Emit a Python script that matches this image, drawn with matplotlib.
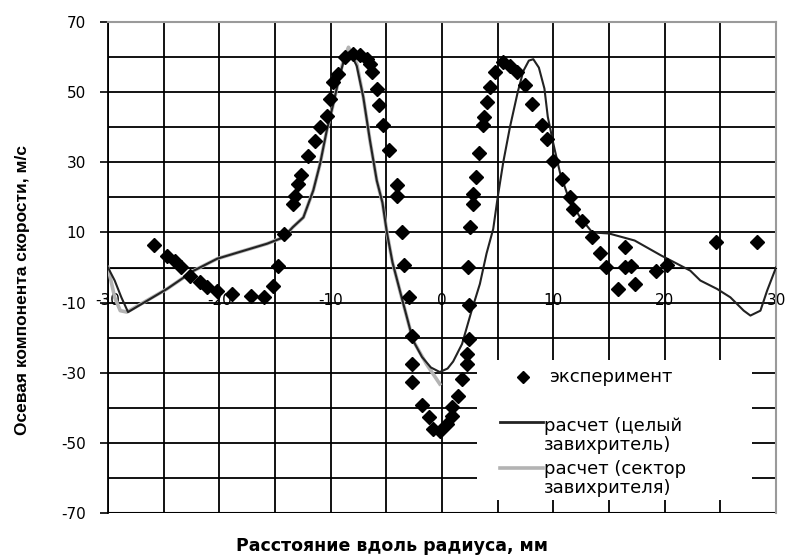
import numpy as np
import matplotlib
matplotlib.use('Agg')
import matplotlib.pyplot as plt
from matplotlib.patches import Rectangle
from matplotlib.lines import Line2D

# experimental points, axial velocity vs radius
exp_x = [-25.9, -24.7, -24.0, -23.4, -22.6, -21.7, -21.1, -20.2, -18.9, -17.2,
         -16.0, -15.2, -14.7, -14.2, -13.35, -13.2, -12.9, -12.7, -12.0, -11.4,
         -11.0, -10.35, -10.06, -9.76, -9.3, -8.7, -7.97, -7.36, -6.76, -6.47,
         -6.3, -5.86, -5.7, -5.27, -4.8, -4.07, -4.07, -3.6, -3.4, -3.0,
         -2.7, -2.7, -2.7, -1.8, -1.2, -0.78, -0.18, 0.42, 0.87, 0.87,
         1.47, 1.77, 2.2, 2.2, 2.45, 2.45, 2.36, 2.5, 2.75, 2.8,
         3.05, 3.35, 3.7, 3.77, 4.0, 4.3, 4.76, 5.5, 6.1, 6.7,
         7.46, 8.06, 8.96, 9.4, 10.0, 10.75, 11.5, 11.8, 12.55, 13.45,
         14.2, 14.7, 16.4, 16.4, 17.0, 15.8, 17.3, 19.2, 20.2, 24.6, 28.3]
exp_y = [6.3, 3.4, 2.0, 0.1, -2.3, -4.2, -5.6, -6.6, -7.5, -8.0,
         -8.3, -5.4, 0.3, 9.6, 18.2, 20.5, 23.9, 26.5, 31.9, 36.2,
         40.0, 43.3, 48.1, 52.8, 55.2, 60.0, 60.9, 60.7, 59.5, 58.1,
         55.7, 51.0, 46.2, 40.5, 33.4, 23.4, 20.5, 10.1, 0.8, -8.5,
         -19.4, -27.5, -32.7, -39.3, -42.7, -46.0, -46.5, -44.6, -42.2, -39.8,
         -36.5, -31.7, -27.5, -24.6, -20.3, -10.8, 0.1, 11.5, 18.2, 21.0,
         25.7, 32.6, 40.5, 42.9, 47.1, 51.4, 55.7, 58.5, 57.6, 55.7,
         51.9, 46.7, 40.5, 36.7, 30.5, 25.3, 20.0, 16.7, 13.4, 8.6,
         4.2, 0.1, 5.8, 0.1, 0.4, -6.1, -4.7, -0.9, 0.8, 7.2, 7.2]

# computation, full swirler
full_x = [-30, -29.4, -28.8, -28.2, -24.7, -22.3, -20.2, -17.8, -15.7, -14.25,
          -13.4, -12.45, -11.56, -10.95, -10.35, -9.76, -9.3, -8.86, -8.3, -7.66,
          -7.07, -6.47, -5.86, -5.35, -4.95, -4.45, -3.47, -2.6, -1.8, -1.0,
          -0.2, 0.5, 1.0, 1.8, 2.66, 3.4, 4.0, 4.6, 5.0, 5.5,
          6.1, 6.8, 7.3, 7.8, 8.2, 8.7, 9.2, 9.5, 10.0, 10.6,
          11.35, 12.4, 13.5, 15.0, 17.3, 19.7, 21.1, 22.3, 23.2, 24.7,
          25.9, 27.1, 27.7, 28.6, 29.2, 30.0]
full_y = [0, -3.7, -8.5, -12.7, -6.1, -0.9, 2.5, 4.8, 6.8, 8.6,
          11.5, 14.3, 22.0, 29.6, 39.1, 46.7, 53.3, 58.5, 61.5, 57.5,
          48.6, 36.2, 24.8, 18.5, 10.0, 1.5, -10.4, -20.8, -25.5, -28.5,
          -29.8, -28.8, -26.8, -21.8, -12.3, -4.7, 4.0, 11.0, 20.0, 30.0,
          40.0, 50.0, 56.0, 59.0, 59.4, 57.0, 51.0, 43.0, 35.3, 27.0,
          20.0, 14.3, 10.0, 9.7, 7.7, 3.4, 1.1, -0.9, -3.7, -6.1,
          -8.5, -12.3, -13.7, -12.3, -6.6, 0.0]

# computation, swirler sector
sect_x = [-30, -29.8, -29.4, -28.9, -28.3, -24.7, -22.3, -20.2, -17.8, -15.7,
          -14.25, -13.4, -12.45, -11.56, -10.95, -10.35, -9.76, -9.3, -8.86, -8.4,
          -7.66, -7.07, -6.47, -5.86, -5.35, -4.95, -4.45, -3.47, -2.6, -1.4, -0.2]
sect_y = [0, -2.8, -8.5, -12.3, -12.7, -6.1, -0.9, 2.5, 4.8, 6.8,
          8.6, 11.5, 14.3, 22.0, 29.6, 39.1, 46.7, 53.3, 59.0, 62.8,
          58.1, 48.6, 36.2, 24.8, 18.5, 10.0, 1.5, -10.4, -20.8, -27.5, -33.2]

x_ticks = [-30, -20, -10, 0, 10, 20, 30]
y_ticks = [-70, -50, -30, -10, 10, 30, 50, 70]

plt.rcParams['font.family'] = ['DejaVu Sans']

fig = plt.figure(figsize=(7.86, 5.56), dpi=100)
ax = fig.add_axes([0.1374, 0.0773, 0.8499, 0.8831])

ax.set_xlim(-30, 30)
ax.set_ylim(-70, 70)
ax.set_xticks(x_ticks)
ax.set_xticks(np.arange(-25, 30, 10), minor=True)
ax.set_yticks(y_ticks)
ax.set_yticks(np.arange(-60, 70, 20), minor=True)
ax.set_xticklabels([str(v) for v in x_ticks])
ax.set_yticklabels([str(v) for v in y_ticks])
ax.grid(True, which='both', color='black', linewidth=1.3)
ax.set_axisbelow(True)

ax.spines['bottom'].set_position(('data', 0))
ax.spines['bottom'].set_color('black')
ax.spines['left'].set_color('black')
ax.spines['left'].set_linewidth(1.3)
ax.spines['top'].set_color('#9a9a9a')
ax.spines['right'].set_color('#9a9a9a')
ax.spines['top'].set_linewidth(1.5)
ax.spines['right'].set_linewidth(1.5)
ax.axhline(-70, color='black', linewidth=1.5, zorder=1)

ax.tick_params(axis='y', which='major', direction='out', length=6, width=1.2,
               pad=10, labelsize=11)
ax.tick_params(axis='y', which='minor', length=0)
ax.tick_params(axis='x', which='both', length=0, pad=18, labelsize=11)

ax.plot(sect_x, sect_y, color='#b3b3b3', linewidth=2.6, zorder=3)
ax.plot(full_x, full_y, color='#222222', linewidth=1.5, zorder=4)
ax.plot(exp_x, exp_y, linestyle='none', marker='D', markersize=7.5,
        color='black', zorder=5)

# legend block drawn on a white patch inside the plot area
ax.add_patch(Rectangle((0.552, 0.0265), 0.412, 0.285, transform=ax.transAxes,
                       facecolor='white', edgecolor='none', zorder=6))
ax.add_line(Line2D([0.621], [0.277], transform=ax.transAxes, marker='D',
                   markersize=6.5, color='black', linestyle='none', zorder=7))
ax.add_line(Line2D([0.587, 0.651], [0.186, 0.186], transform=ax.transAxes,
                   color='#222222', linewidth=2, zorder=7))
ax.add_line(Line2D([0.587, 0.651], [0.091, 0.091], transform=ax.transAxes,
                   color='#b3b3b3', linewidth=2.6, zorder=7))
leg_kw = dict(transform=ax.transAxes, fontsize=13, va='center', ha='left',
              zorder=8)
ax.text(0.66, 0.277, 'эксперимент', **leg_kw)
ax.text(0.653, 0.178, 'расчет (целый', **leg_kw)
ax.text(0.653, 0.139, 'завихритель)', **leg_kw)
ax.text(0.653, 0.089, 'расчет (сектор', **leg_kw)
ax.text(0.653, 0.050, 'завихрителя)', **leg_kw)

fig.text(0.499, 0.018, 'Расстояние вдоль радиуса, мм', ha='center',
         va='center', fontsize=12.5, fontweight='bold')
fig.text(0.029, 0.478, 'Осевая компонента скорости, м/с', rotation=90,
         ha='center', va='center', fontsize=12.5, fontweight='bold',
         family=['Liberation Sans', 'DejaVu Sans'])

fig.savefig('out.png', dpi=100)
